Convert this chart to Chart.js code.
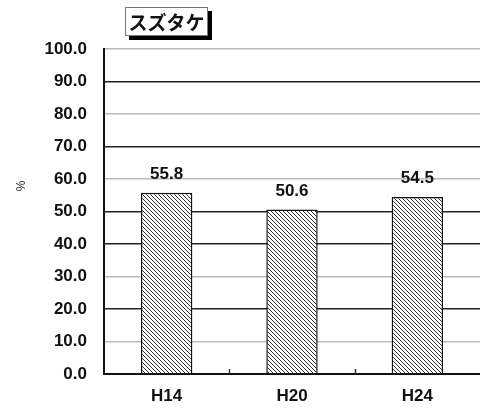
<!DOCTYPE html>
<html><head><meta charset="utf-8">
<script src="https://cdn.jsdelivr.net/npm/chart.js@4/dist/chart.umd.min.js"></script>
<style>
html,body{margin:0;padding:0;background:#fff;}
#wrap{position:relative;width:480px;height:410px;}
#title{position:absolute;left:125px;top:7px;width:81px;height:27px;border:1px solid #777;background:#fff;box-shadow:4px 4px 0 #000;font-family:"Noto Sans CJK JP",sans-serif;font-weight:bold;font-size:19px;line-height:27px;text-align:center;color:#111;}
#unit{position:absolute;left:13px;top:177px;width:16px;height:18px;font-family:"Liberation Sans",Arial,sans-serif;font-size:12px;line-height:18px;text-align:center;color:#222;transform:rotate(-90deg);}
</style></head>
<body><div id="wrap"><canvas id="c" width="480" height="410"></canvas><div id="title">スズタケ</div><div id="unit">%</div></div>
<script>
const categories = ["H14", "H20", "H24"];
const values = [55.8, 50.6, 54.5];
const yTicks = [0, 10, 20, 30, 40, 50, 60, 70, 80, 90, 100];
const gridDark = [true, false, true, false, true, true, false, true, false, true, false];

function hatch() {
  const s = 4, c = document.createElement('canvas');
  c.width = s; c.height = s;
  const g = c.getContext('2d');
  g.fillStyle = '#fff'; g.fillRect(0, 0, s, s);
  g.strokeStyle = '#333'; g.lineWidth = 1;
  g.beginPath();
  g.moveTo(-1, -1); g.lineTo(s + 1, s + 1);
  g.moveTo(-1, s - 1); g.lineTo(1, s + 1);
  g.moveTo(s - 1, -1); g.lineTo(s + 1, 1);
  g.stroke();
  return g.createPattern(c, 'repeat');
}
const ctx = document.getElementById('c').getContext('2d');
const FONT = {family: '"Liberation Sans", Arial, sans-serif', size: 17, weight: 'bold'};

const labelPlugin = {
  id: 'labels',
  afterDatasetsDraw(chart) {
    const c = chart.ctx, meta = chart.getDatasetMeta(0);
    c.save();
    c.font = 'bold 17px "Liberation Sans", Arial, sans-serif';
    c.fillStyle = '#111'; c.textAlign = 'center'; c.textBaseline = 'bottom';
    meta.data.forEach((b, i) => c.fillText(values[i].toFixed(1), b.x, b.y - 10));
    const xs = chart.scales.x, bottom = chart.chartArea.bottom;
    c.strokeStyle = '#333'; c.lineWidth = 1.5;
    for (let i = 0; i < categories.length - 1; i++) {
      const x = Math.round((xs.getPixelForValue(i) + xs.getPixelForValue(i + 1)) / 2) + 0.5;
      c.beginPath(); c.moveTo(x, bottom); c.lineTo(x, bottom - 5); c.stroke();
    }
    c.restore();
  }
};

new Chart(ctx, {
  type: 'bar',
  data: {labels: categories, datasets: [{data: values, backgroundColor: hatch(), borderColor: '#111', borderWidth: 1.5, barPercentage: 0.82, categoryPercentage: 0.5}]},
  options: {
    responsive: false, animation: false,
    layout: {padding: {top: 49, right: 0, bottom: 0, left: 0}},
    plugins: {legend: {display: false}, tooltip: {enabled: false}},
    scales: {
      x: {
        grid: {display: false, drawTicks: false},
        border: {color: '#111', width: 2},
        ticks: {font: FONT, color: '#111', padding: 12},
        afterFit(s) { s.height = 36; }
      },
      y: {
        min: 0, max: 100,
        afterBuildTicks(s) { s.ticks = yTicks.map(v => ({value: v})); },
        afterFit(s) { s.width = 104; },
        grid: {drawTicks: false,
          color: c => gridDark[c.index] ? '#222' : '#bbb',
          lineWidth: 1.5},
        border: {color: '#111', width: 2},
        ticks: {font: FONT, color: '#111', padding: 17, callback: v => Number(v).toFixed(1)}
      }
    }
  },
  plugins: [labelPlugin]
});
</script></body></html>
